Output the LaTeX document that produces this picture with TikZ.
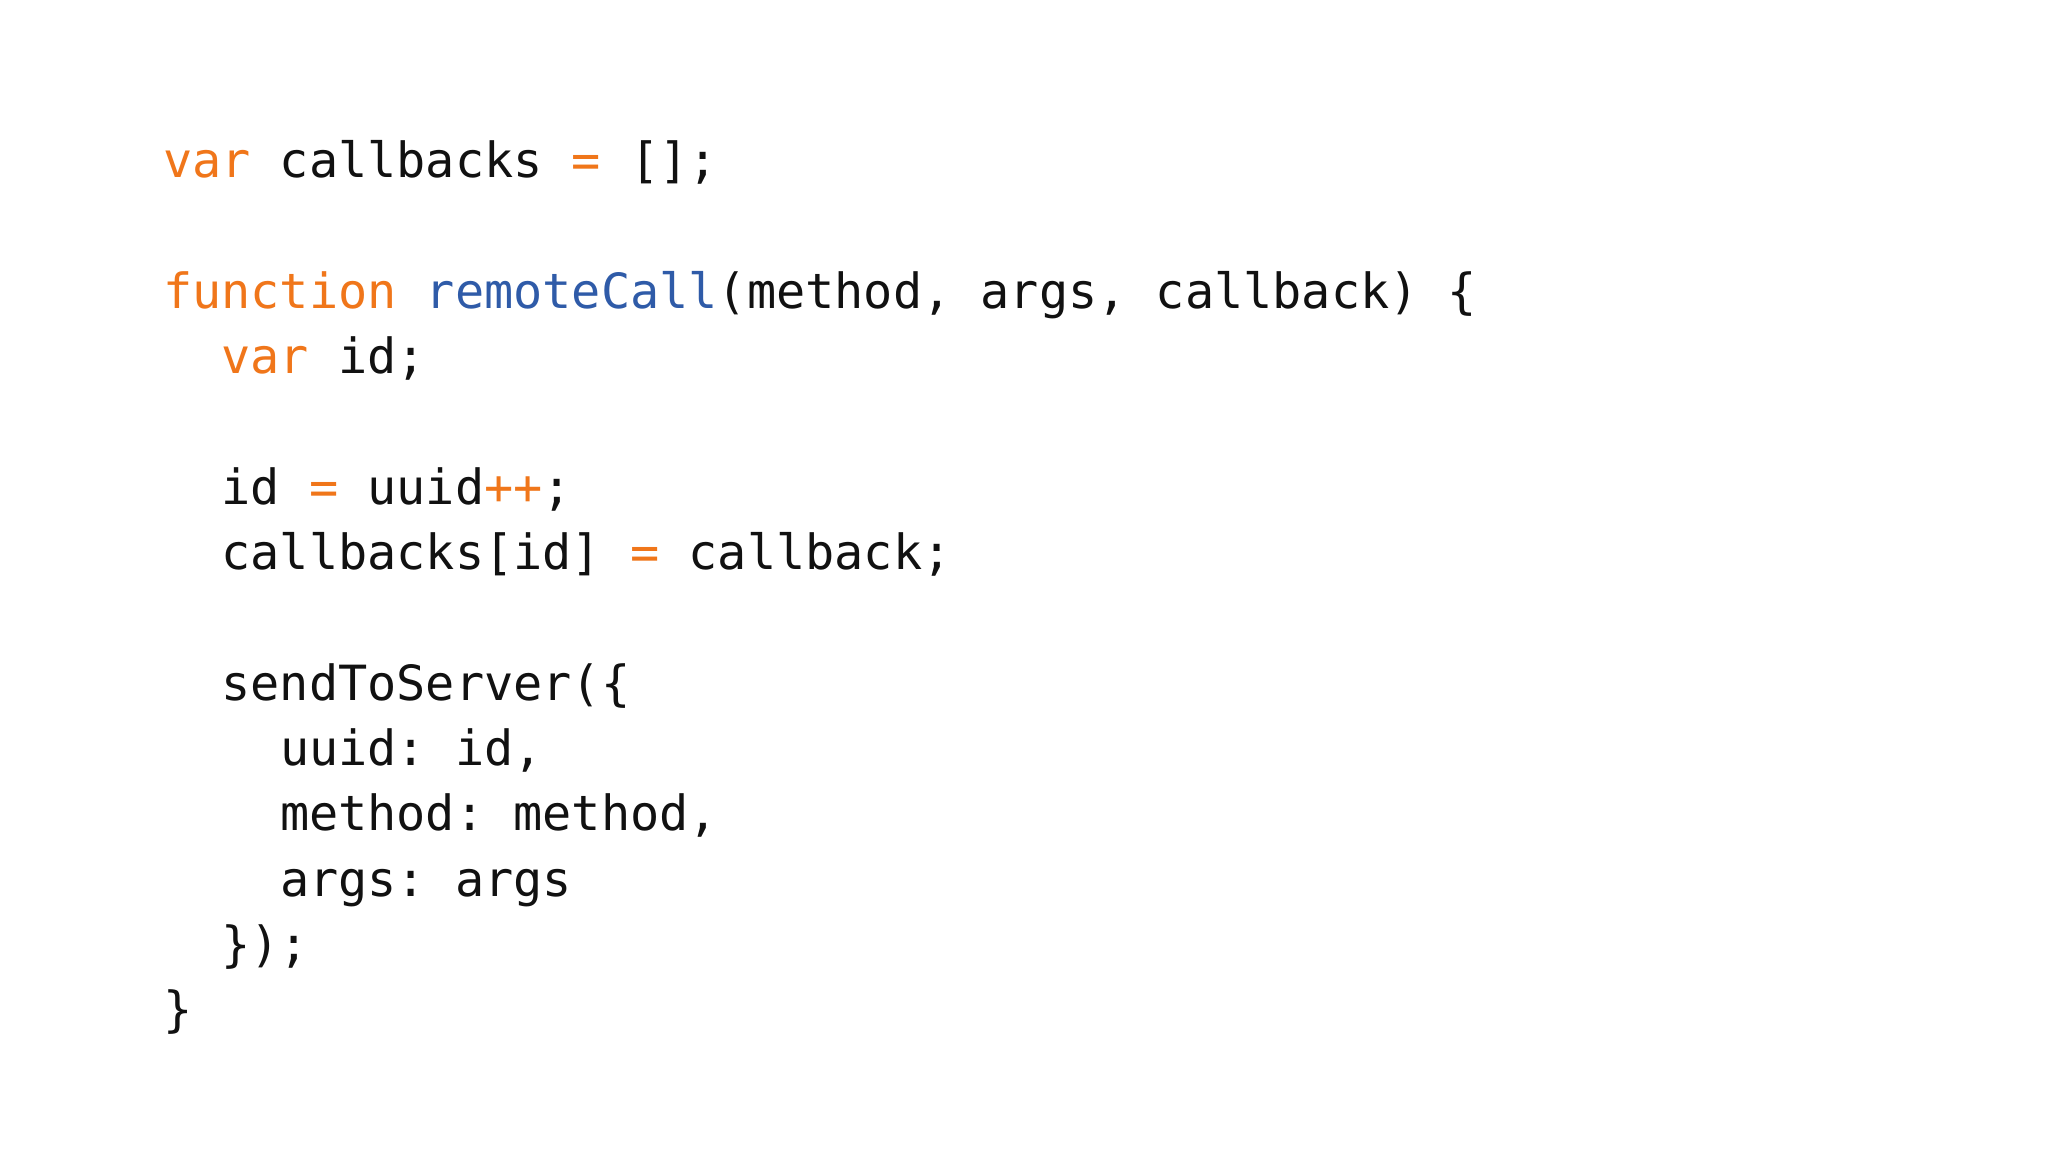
\documentclass[tikz,border=0pt]{standalone}
\usepackage{fontspec}
\setmonofont{DejaVu Sans Mono}
\definecolor{kw}{HTML}{F0761A}
\definecolor{fn}{HTML}{2F5BA8}
\definecolor{tx}{HTML}{111111}
\newcommand{\K}[1]{\textcolor{kw}{#1}}
\newcommand{\F}[1]{\textcolor{fn}{#1}}
\begin{document}
\begin{tikzpicture}[x=1pt,y=1pt,
  codeline/.style={anchor=base west,inner sep=0pt,font=\fontsize{48.5}{56}\ttfamily,text=tx}]
\useasboundingbox[fill=white] (0,0) rectangle (2048,1152);
\def\L{163}\def\c{29.2}\def\s{65.3}
\node[codeline] (l1) at (\L,974) {\K{var} callbacks \K{=} [];};
\node[codeline] (l2) at (\L,974-2*\s) {\K{function} \F{remoteCall}(method, args, callback) \{};
\node[codeline] (l3) at (\L+2*\c,974-3*\s) {\K{var} id;};
\node[codeline] (l4) at (\L+2*\c,974-5*\s) {id \K{=} uuid\K{++};};
\node[codeline] (l5) at (\L+2*\c,974-6*\s) {callbacks[id] \K{=} callback;};
\node[codeline] (l6) at (\L+2*\c,974-8*\s) {sendToServer(\{};
\node[codeline] (l7) at (\L+4*\c,974-9*\s) {uuid: id,};
\node[codeline] (l8) at (\L+4*\c,974-10*\s) {method: method,};
\node[codeline] (l9) at (\L+4*\c,974-11*\s) {args: args};
\node[codeline] (l10) at (\L+2*\c,974-12*\s) {\});};
\node[codeline] (l11) at (\L,974-13*\s) {\}};
\end{tikzpicture}
\end{document}
